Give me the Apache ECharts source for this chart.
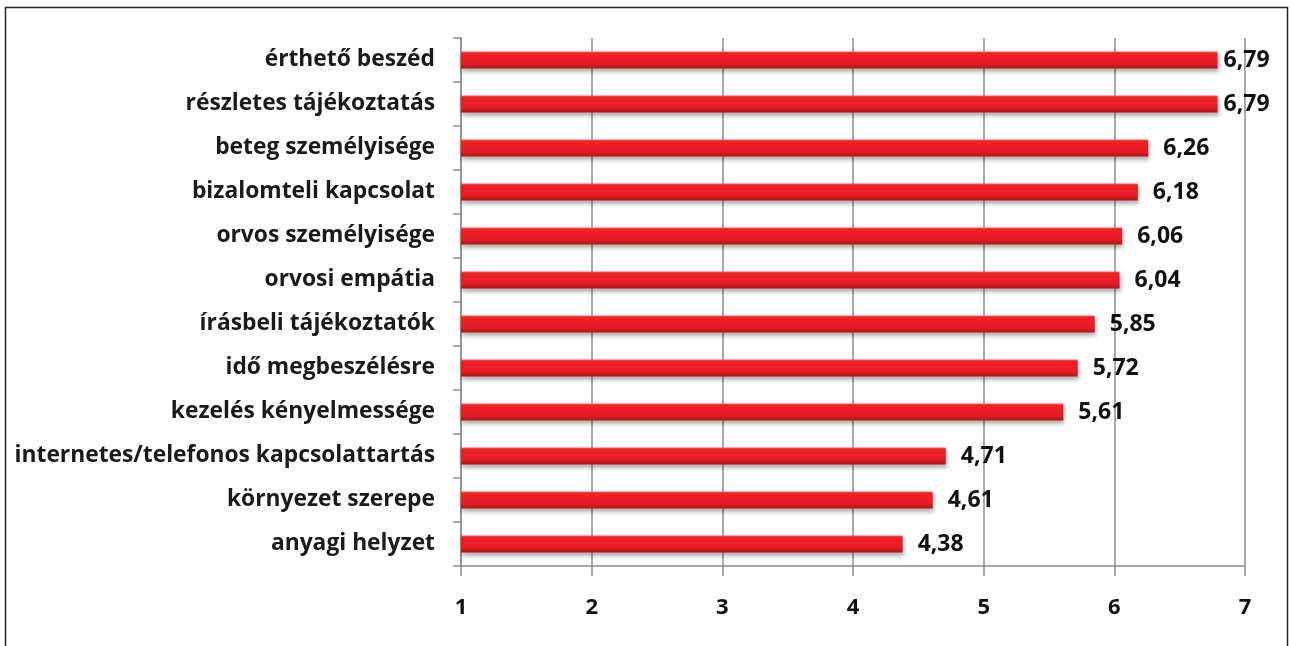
<!DOCTYPE html>
<html><head><meta charset="utf-8">
<script src="https://cdn.jsdelivr.net/npm/echarts@6/dist/echarts.min.js"></script>
<style>html,body{margin:0;padding:0;background:#fff}#c{width:1290px;height:646px}</style>
</head><body><div id="c"></div>
<script>
const categories = ['érthető beszéd','részletes tájékoztatás','beteg személyisége','bizalomteli kapcsolat','orvos személyisége','orvosi empátia','írásbeli tájékoztatók','idő megbeszélésre','kezelés kényelmessége','internetes/telefonos kapcsolattartás','környezet szerepe','anyagi helyzet'];
const values = [6.79,6.79,6.26,6.18,6.06,6.04,5.85,5.72,5.61,4.71,4.61,4.38];
const xTicks = [1,2,3,4,5,6,7];

const chart = echarts.init(document.getElementById('c'));
const FONT = '"Open Sans"';
const xMax = xTicks[xTicks.length-1];
const seriesData = values.map(v => ({value:v, label:{distance: (xMax - v) < 0.3 ? 6 : 15}}));
chart.setOption({
  animation:false,
  graphic:[{type:'rect',shape:{x:5.5,y:7.5,width:1282,height:660},style:{fill:'none',stroke:'#222',lineWidth:1.5},silent:true}],
  grid:{left:461,right:45,top:38,bottom:80,containLabel:false},
  xAxis:{type:'value',min:xTicks[0],max:xMax,interval:1,
    axisLine:{show:true,lineStyle:{color:'#8c8c8c',width:1.5}},
    axisTick:{show:true,length:10,lineStyle:{color:'#8c8c8c',width:1.5}},
    splitLine:{show:true,lineStyle:{color:'#8c8c8c',width:1.5}},
    axisLabel:{margin:31,color:'#111',fontFamily:FONT,fontWeight:'bold',fontSize:22}},
  yAxis:{type:'category',data:categories,inverse:true,
    axisLine:{show:true,lineStyle:{color:'#8c8c8c',width:1.5}},
    axisTick:{show:true,length:8,lineStyle:{color:'#8c8c8c',width:1.5}},
    axisLabel:{margin:26,color:'#1a1a1a',fontFamily:FONT,fontWeight:'bold',fontSize:22.8}},
  series:[{type:'bar',data:seriesData,barWidth:17,
    itemStyle:{color:new echarts.graphic.LinearGradient(0,0,0,1,[{offset:0,color:'#f25a60'},{offset:0.12,color:'#ee1f27'},{offset:0.7,color:'#e81c24'},{offset:1,color:'#b3131a'}]),
      shadowColor:'rgba(0,0,0,0.3)',shadowBlur:4,shadowOffsetY:3,shadowOffsetX:1},
    label:{show:true,position:'right',color:'#111',fontFamily:FONT,fontWeight:'bold',fontSize:23,
      formatter:p=>p.value.toFixed(2).replace('.',',')}}]
});
</script></body></html>
